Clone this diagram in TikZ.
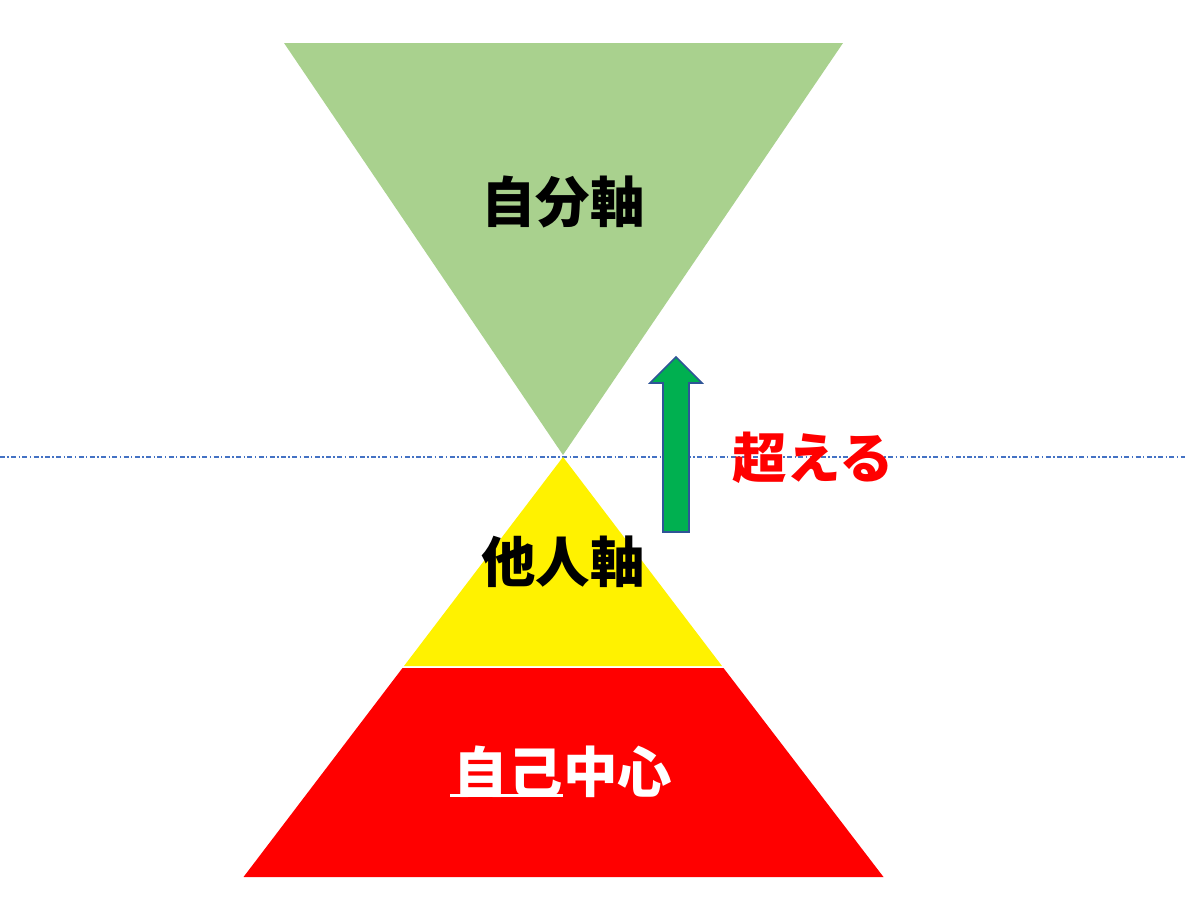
\documentclass[tikz,border=0pt]{standalone}
\usepackage{fontspec}
\newfontfamily\jpfont{Noto Sans CJK JP}
\usepackage{tikz}
\usetikzlibrary{positioning}

\definecolor{ownaxis}{HTML}{A9D18E}
\definecolor{arrowgreen}{HTML}{00B050}
\definecolor{arrowedge}{HTML}{2F5597}
\definecolor{guideblue}{HTML}{4472C4}

\begin{document}
\begin{tikzpicture}[
    x=0.02cm, y=-0.02cm, % one unit = one pixel of the reference
    label/.style={
        font=\jpfont\bfseries\fontsize{31}{37}\selectfont,
        inner sep=0pt
    },
    guide/.style={
        guideblue,
        line width=0.6pt,
        dash pattern=on 2.8pt off 1.4pt on 0.8pt off 1.4pt
    },
    uparrow/.style={
        fill=arrowgreen,
        draw=arrowedge,
        line width=0.9pt,
        line join=miter
    }
]
    \useasboundingbox (0,0) rectangle (1185,923);

    % --- Shapes of the hourglass ---
    \fill[ownaxis]  (284,43) -- (843,43) -- (563,455) -- cycle;
    \draw[guide]    (0,457) -- (1185,457);
    \fill[yellow]   (563,457) -- (722,666) -- (404,666) -- cycle;
    \fill[red]      (402.5,668) -- (723.5,668) -- (883.5,877) -- (243.5,877) -- cycle;

    % --- Arrow pointing upwards ---
    \draw[uparrow] (663,532) -- (663,383) -- (650,383) -- (676,357)
        -- (702,383) -- (689,383) -- (689,532) -- cycle;

    % --- Labels ---
    \node[label] (own)    at (563,202) {自分軸};
    \node[label] (others) at (563,562) {他人軸};
    \node[label, text=red] (beyond) at (813,458) {超える};
    \node[label, text=white, anchor=east] (self) at (563,772) {自己};
    \node[label, text=white, right=0pt of self] (center) {中心};
    \draw[white, line width=1.7pt] (self.south west) ++(-3,-3) coordinate (ul)
        -- (ul -| self.east);
\end{tikzpicture}
\end{document}
